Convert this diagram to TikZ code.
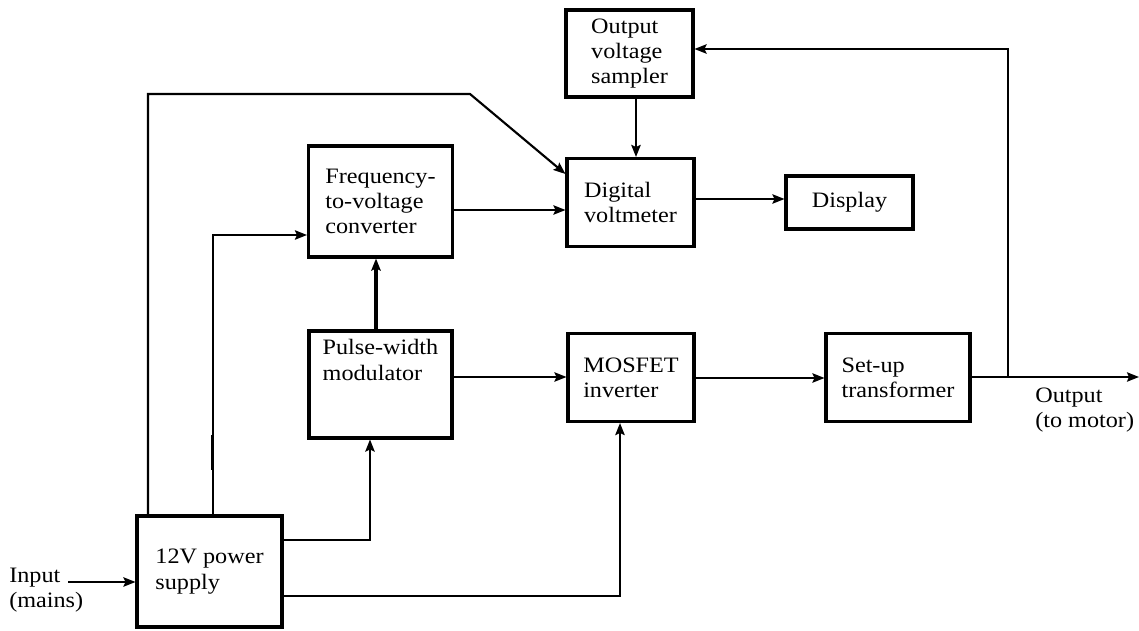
\documentclass[tikz,border=0pt]{standalone}
\usepackage{fontspec}
\setmainfont{Liberation Serif}[FakeStretch=1.1]
\usetikzlibrary{arrows.meta}
\begin{document}
\begin{tikzpicture}[x=0.75pt,y=-0.75pt,
  blk/.style={draw,line width=2.3pt,inner sep=0pt,align=left,font=\fontsize{16.5}{19}\selectfont},
  lbl/.style={inner sep=0pt,align=left,anchor=west,font=\fontsize{16.5}{19}\selectfont},
  arr/.style={line width=1.6pt,-{Stealth[length=9pt,width=7pt,inset=1.5pt]}}]
\useasboundingbox (0,0) rectangle (1139,631);
% blocks
\node[blk,minimum width=108.75pt,minimum height=83.25pt] (psu) at (209.5,571.5) {12V power\\supply};
\node[blk,minimum width=108pt,minimum height=83.25pt] (fvc) at (380.5,201.5) {Frequency-\\to-voltage\\converter};
\node[blk,minimum width=107.25pt,minimum height=80.25pt] (pwm) at (380.5,384.5) {Pulse-width\\modulator\\[18pt]};
\node[blk,minimum width=95.25pt,minimum height=66pt] (dvm) at (630.5,202.5) {Digital\\voltmeter};
\node[blk,minimum width=95.25pt,minimum height=65.25pt] (ovs) at (629.5,53.5) {Output\\voltage\\sampler};
\node[blk,minimum width=95.25pt,minimum height=39.75pt] (disp) at (849.5,202.5) {Display};
\node[blk,minimum width=94.5pt,minimum height=66pt] (mos) at (631,377.5) {MOSFET\\inverter};
\node[blk,minimum width=108pt,minimum height=66pt] (sut) at (898,377.5) {Set-up\\transformer};
% labels
\node[lbl] (inl) at (9,590) {Input\\(mains)};
\node[lbl] (outl) at (1035,410) {Output\\(to motor)};
% coordinates
\coordinate (inS) at (68,582);
\coordinate (outE) at (1139,377);
\coordinate (tap) at (1008,377);
% connectors
\draw[arr] (inS) -- (inS -| psu.west);
\draw[arr] (psu.north -| 148,0) -- (148,94) -- (470,94) -- (dvm.north west |- 0,174);
\draw[arr] (psu.north -| 213,0) -- (213,235) -- (fvc.west |- 0,235);
\draw[line width=2.6pt] (212.3,435) -- (212.3,470);
\draw[arr] (fvc.east |- 0,210) -- (dvm.west |- 0,210);
\draw[arr,line width=2.3pt] (pwm.north -| 376,0) -- (fvc.south -| 376,0);
\draw[arr] (ovs.south -| 636,0) -- (dvm.north -| 636,0);
\draw[arr] (dvm.east |- 0,199) -- (disp.west |- 0,199);
\draw[arr] (pwm.east |- 0,377) -- (mos.west |- 0,377);
\draw[arr] (mos.east |- 0,378) -- (sut.west |- 0,378);
\draw[arr] (sut.east |- outE) -- (outE);
\draw[arr] (tap) -- (1008,49) -- (ovs.east |- 0,49);
\draw[arr] (psu.east |- 0,540) -- (370,540) -- (pwm.south -| 370,0);
\draw[arr] (psu.east |- 0,596) -- (620,596) -- (mos.south -| 620,0);
\end{tikzpicture}
\end{document}
